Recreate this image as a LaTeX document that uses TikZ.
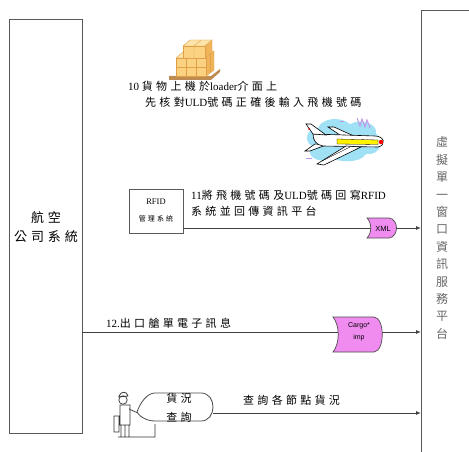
\documentclass[tikz,border=0pt]{standalone}
\usepackage{fontspec}
\setmainfont{Liberation Serif}
\setsansfont{Liberation Sans}
\newfontfamily\cjk[LetterSpace=30]{Noto Sans CJK TC}
\newfontfamily\cjkplain{Noto Sans CJK TC}
\usetikzlibrary{arrows.meta}

\tikzset{
  sysbox/.style={draw=black!65, line width=1pt},
  flow/.style={draw=black!75, line width=0.9pt, -{Latex[length=5pt,width=4pt]}},
  lbl/.style={inner sep=0pt, anchor=west, font=\fontsize{11}{14}\selectfont},
  msgshape/.style={draw=black!70, line width=0.7pt, fill=msgpink},
  outline/.style={draw=black, line width=0.6pt},
}
\definecolor{msgpink}{RGB}{240,140,240}
\definecolor{boxface}{RGB}{250,210,130}
\definecolor{boxtop}{RGB}{252,228,170}
\definecolor{boxside}{RGB}{240,180,90}
\definecolor{boxline}{RGB}{225,160,70}
\definecolor{pallet}{RGB}{190,140,80}
\definecolor{skyblue}{RGB}{160,225,245}
\definecolor{zigzag}{RGB}{190,150,230}

\begin{document}
\begin{tikzpicture}[x=1pt,y=-1pt]
\useasboundingbox (0,0) rectangle (469,452);

% ---------- the two systems ----------
\node[sysbox, minimum width=73pt, minimum height=414pt, anchor=north west, inner sep=0pt]
  (airline) at (9,19) {};
\node[font=\fontsize{13}{19}\selectfont\cjk, align=center] (airlinetxt) at (46,227) {航空\\公司系統};

\path[sysbox] (475,11) -- (421,11) -- (421,460);
\coordinate (platN) at (421,11);
\node[font=\fontsize{12}{17.4}\selectfont\cjkplain, text=black!60, align=center, inner sep=0pt]
  (plattxt) at (442,238) {虛\\擬\\單\\一\\窗\\口\\資\\訊\\服\\務\\平\\台};

% ---------- step 10: cargo icon and text ----------
% pallet
\fill[pallet] (169,76) -- (211,76) -- (220,69) -- (220,72) -- (211,80) -- (169,80) -- cycle;
% lower layer of boxes
\filldraw[fill=boxside, draw=boxline, line width=0.4pt] (206,58) -- (214,51) -- (214,70) -- (206,76) -- cycle;
\filldraw[fill=boxtop, draw=boxline, line width=0.4pt] (176,58) -- (184,51) -- (214,51) -- (206,58) -- cycle;
\filldraw[fill=boxface, draw=boxline, line width=0.4pt] (176,58) rectangle (206,76);
\draw[boxline, line width=0.4pt] (186,58) -- (186,76) (196,58) -- (196,76) (176,67) -- (206,67)
  (210,54.5) -- (210,73);
% upper layer of boxes
\filldraw[fill=boxside, draw=boxline, line width=0.4pt] (205,46) -- (212,40) -- (212,52) -- (205,58) -- cycle;
\filldraw[fill=boxtop, draw=boxline, line width=0.4pt] (183,46) -- (190,40) -- (212,40) -- (205,46) -- cycle;
\filldraw[fill=boxface, draw=boxline, line width=0.4pt] (183,46) rectangle (205,58);
\draw[boxline, line width=0.4pt] (194,46) -- (194,58) (201,40) -- (194,46);

\node[lbl] (t10a) at (128,86) {10 {\cjk 貨物上機於}loader{\cjk 介面上}};
\node[lbl] (t10b) at (145,102) {{\cjk 先核對}ULD{\cjk 號碼正確後輸入飛機號碼}};

% ---------- airplane icon ----------
\fill[skyblue] (318,128) .. controls (322,118) and (340,116) .. (350,124)
  .. controls (362,118) and (378,124) .. (376,134)
  .. controls (386,140) and (380,156) .. (366,154)
  .. controls (360,164) and (338,162) .. (332,158)
  .. controls (318,166) and (304,154) .. (312,146)
  .. controls (302,140) and (308,128) .. (318,128) -- cycle;
\draw[zigzag, line width=1pt] (357,118) -- (360,126) -- (362,119) -- (365,127) -- (367,120) -- (370,128);
\draw[zigzag, line width=0.8pt] (340,121) -- (344,121) (306,158) -- (312,158);
% wings behind and in front of the body
\filldraw[fill=white, outline] (343,137) -- (328,127) -- (334,127) -- (356,137) -- cycle;
\filldraw[fill=white, outline] (315,144) -- (305,151) -- (310,151) -- (326,145) -- cycle;
% body
\filldraw[fill=white, outline] (313,134) -- (375,136)
  .. controls (384,136) and (387,145) .. (378,147) -- (323,146)
  .. controls (316,145) and (313,140) .. (313,134) -- cycle;
% tail fin
\filldraw[fill=white, outline] (313,134) -- (306,124) -- (311,124) -- (326,135) -- cycle;
\fill[red!80!black] (309,129) circle (1pt);
% stripe and nose
\filldraw[fill=yellow, draw=black, line width=0.3pt] (337,139) -- (378,140) -- (378,144.5) -- (337,144) -- cycle;
\fill[red] (381,142) circle (2.2pt);
% front wing
\filldraw[fill=white, outline] (346,146) -- (317,164) -- (324,165) -- (361,147) -- cycle;
\draw[black, line width=0.4pt] (322,161) -- (350,147);

% ---------- step 11: RFID system to platform ----------
\node[sysbox, line width=0.9pt, minimum width=54pt, minimum height=44pt, inner sep=0pt,
  align=center, font=\fontsize{8.5}{17}\selectfont] (rfid) at (156,211)
  {RFID\\{\fontsize{7}{9}\selectfont\cjk 管理系統}};
\node[lbl] (t11a) at (191,195) {11{\cjk 將飛機號碼及}ULD{\cjk 號碼回寫}RFID};
\node[lbl] (t11b) at (191,211) {{\cjk 系統並回傳資訊平台}};

\coordinate (xmlW) at (367,228);
\draw[flow] (rfid.east |- xmlW) -- (xmlW -| platN) coordinate (in11);
\path[msgshape] (367,218) -- (389,218) .. controls (399,219) and (399,237) .. (389,238)
  -- (367,238) .. controls (372,233) and (372,223) .. (367,218) -- cycle;
\node[font=\sffamily\fontsize{7.5}{9}\selectfont, inner sep=0pt] (xml) at (383,228.5) {XML};

% ---------- step 12: cargo manifest message ----------
\coordinate (m12) at (82,332);
\draw[flow] (m12) -- (m12 -| platN) coordinate (in12);
\node[lbl] (t12) at (106,323) {12.{\cjk 出口艙單電子訊息}};
\path[msgshape] (333,317) -- (374,317) .. controls (385,318) and (385,351) .. (374,352)
  -- (333,352) .. controls (340,343) and (340,326) .. (333,317) -- cycle;
\node[font=\sffamily\fontsize{7}{12}\selectfont, align=center, inner sep=0pt] (cimp) at (359,332)
  {Cargo*\\imp};

% ---------- tracking query ----------
% person at desk
\draw[black!80, line width=0.7pt] (123,400) circle (4.2pt);
\draw[black!80, line width=0.8pt] (118,397) -- (128,396) (119,396) .. controls (121,391) and (127,391) .. (128,396);
\draw[black!80, line width=0.7pt] (120,405) -- (120,425) -- (130,425) -- (130,405) -- cycle
  (129,409) -- (138,413)
  (114,416) rectangle (119,432)
  (121,425) -- (121,437) (125,425) -- (125,437) (129,425) -- (129,437)
  (118,437) -- (155,437) -- (155,424);
% display shape
\filldraw[fill=white, draw=black!70, line width=0.8pt] (155,393) -- (201,393)
  .. controls (217,393) and (217,421) .. (201,421) -- (155,421)
  .. controls (146,421) and (139,416) .. (137,412)
  .. controls (140,403) and (147,393) .. (155,393) -- cycle;
\node[font=\fontsize{11}{19}\selectfont\cjk, align=center, inner sep=0pt] (query) at (179,408)
  {貨況\\查詢};
\coordinate (qE) at (213,413);
\draw[flow] (qE) -- (qE -| platN) coordinate (inq);
\node[lbl] (tq) at (243,400) {{\cjk 查詢各節點貨況}};

\end{tikzpicture}
\end{document}
